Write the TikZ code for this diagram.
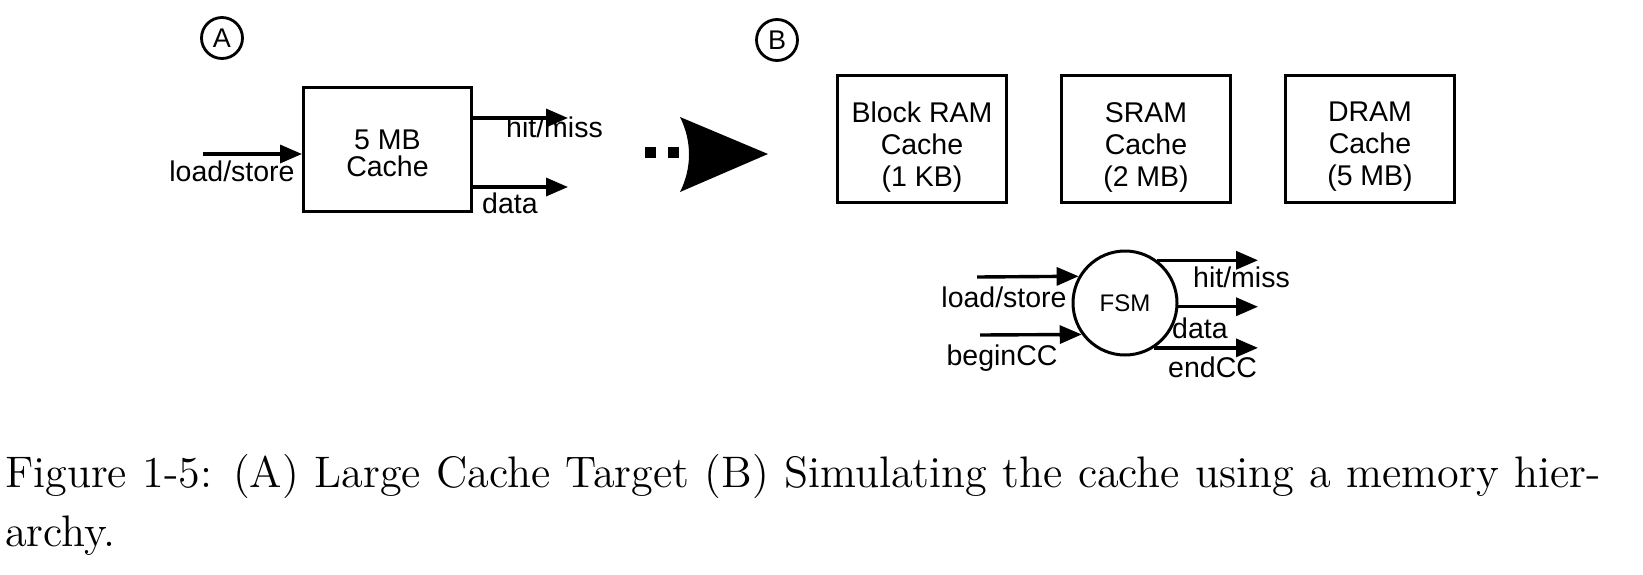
\documentclass[tikz,border=0pt]{standalone}
\usepackage{fontspec}
\newfontfamily\arial{Liberation Sans}
\usetikzlibrary{arrows.meta}
\begin{document}
\begin{tikzpicture}[x=1pt,y=-1pt,
  lbl/.style={font=\arial\fontsize{28.5}{32}\selectfont, inner sep=0pt, align=center},
  cbox/.style={draw, line width=3pt, minimum width=169pt, minimum height=127pt, inner sep=0pt},
  arr/.style={line width=3.4pt, -{Triangle[length=22pt,width=18pt]}},
  letter/.style={draw, circle, line width=2.8pt, minimum size=41pt, inner sep=0pt, font=\arial\fontsize{27}{27}\selectfont},
  captxt/.style={inner sep=0pt, anchor=base west},
]
\useasboundingbox (0,0) rectangle (1643,574);

% ---------- panel A ----------
\node[letter] (la) at (222,38) {A};
\node[cbox, minimum width=168pt, minimum height=124pt] (cacheA) at (387.5,149.5) {};
\node[lbl, font=\arial\fontsize{28.5}{27}\selectfont] (cacheAtxt) at ([yshift=-4pt]cacheA.center) {5 MB\\Cache};
\coordinate (inA) at (203,154);
\draw[arr] (inA) -- (inA -| cacheA.west);
\node[lbl, anchor=base] (lsA) at (232,181) {load/store};
\coordinate (hmA) at (568,118);
\draw[arr] (hmA -| cacheA.east) -- (hmA);
\node[lbl, anchor=base west] (hmAl) at (506,137) {hit/miss};
\coordinate (dA) at (568,187);
\draw[arr] (dA -| cacheA.east) -- (dA);
\node[lbl, anchor=base west] (dAl) at (482,213) {data};

% ---------- transition arrow ----------
\fill (645,147) rectangle (656,158);
\fill (668,147) rectangle (679,158);
\fill (680,117) -- (768,154) -- (680,192) .. controls (692,168) and (692,141) .. cycle;

% ---------- panel B ----------
\node[letter] (lb) at (777,40) {B};
\node[cbox] (bram) at (922,139) {};
\node[cbox] (sram) at (1146,139) {};
\node[cbox] (dram) at (1370,139) {};
\node[lbl] (bramtxt) at ([yshift=-8pt]bram.center) {Block RAM\\Cache\\(1 KB)};
\node[lbl] (sramtxt) at ([yshift=-8pt]sram.center) {SRAM\\Cache\\(2 MB)};
\node[lbl] (dramtxt) at ([yshift=-8pt]dram.center) {DRAM\\Cache\\(5 MB)};

\node[draw, circle, line width=3pt, minimum size=104pt, inner sep=0pt,
      font=\arial\fontsize{24}{24}\selectfont] (fsm) at (1125,303) {FSM};
\coordinate (fi1) at (977,277);
\coordinate (fi2) at (980,335);
\draw[arr] (fi1) -- (fsm.150.6);
\draw[arr] (fi2) -- (fsm.216.7);
\node[lbl, anchor=base] (lsB) at (1004,307) {load/store};
\node[lbl, anchor=base] (bcc) at (1002,365) {beginCC};
\coordinate (fo) at (1258,0);
\draw[arr] (fsm.53.5) -- (fsm.53.5 -| fo);
\draw[arr] (fsm.-4.3) -- (fsm.-4.3 -| fo);
\draw[arr] (fsm.-57.3) -- (fsm.-57.3 -| fo);
\node[lbl, anchor=base west] (hmB) at (1193,287) {hit/miss};
\node[lbl, anchor=base west] (dB) at (1172,338) {data};
\node[lbl, anchor=base west] (ecc) at (1168,377) {endCC};

% ---------- caption ----------
\node[captxt] (cap1) at (5,487) {\scalebox{3.68}{\fontsize{12}{14}\selectfont\hbox to 433.6pt{Figure 1-5: (A) Large Cache Target (B) Simulating the cache using a memory hier-}}};
\node[captxt] (cap2) at (5,546) {\scalebox{3.68}{\fontsize{12}{14}\selectfont archy.}};
\end{tikzpicture}
\end{document}
